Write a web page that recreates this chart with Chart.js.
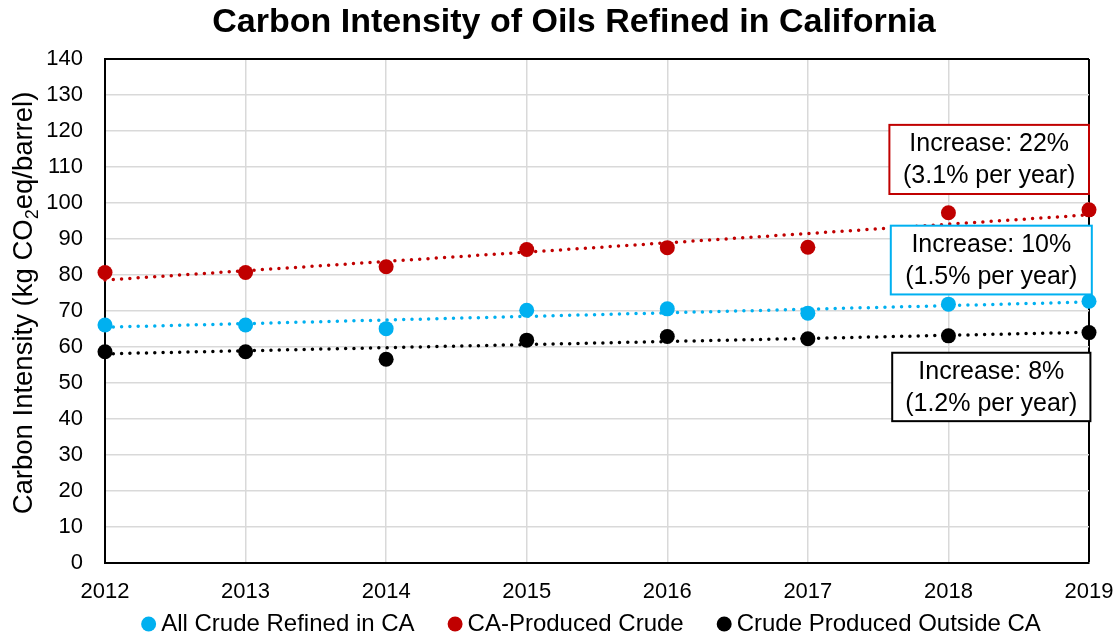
<!DOCTYPE html>
<html>
<head>
<meta charset="utf-8">
<script src="https://cdn.jsdelivr.net/npm/chart.js@4.4.1/dist/chart.umd.min.js"></script>
<style>
  html, body { margin: 0; padding: 0; background: #fff; }
  #wrap { width: 1119px; height: 640px; }
</style>
</head>
<body>
<div id="wrap"><canvas id="chart"></canvas></div>
<script>
'use strict';

// values
const years = [2012, 2013, 2014, 2015, 2016, 2017, 2018, 2019];
const allCrude = [66.1, 66.1, 65.1, 70.2, 70.6, 69.4, 71.9, 72.7];
const caProduced = [80.7, 80.7, 82.3, 87.1, 87.6, 87.7, 97.3, 98.1];
const outsideCA = [58.7, 58.7, 56.6, 61.9, 62.9, 62.3, 63.1, 64.0];

// dotted trend lines, start and end values (2012, 2019)
const trendYears = [2012, 2019];
const allCrudeTrend = [65.5, 72.5];
const caProducedTrend = [78.6, 96.7];
const outsideCATrend = [58.1, 64.1];

const chartTitle = 'Carbon Intensity of Oils Refined in California';
const seriesLabels = ['All Crude Refined in CA', 'CA-Produced Crude', 'Crude Produced Outside CA'];
const noteLines = [
    ['Increase: 22%', '(3.1% per year)'],
    ['Increase: 10%', '(1.5% per year)'],
    ['Increase: 8%', '(1.2% per year)']
];

const BLUE = '#00B0F0';
const RED = '#C00000';
const BLACK = '#000000';
const FONT = "'Liberation Sans', Arial, sans-serif";

// note boxes, placed in axis units
const noteBoxes = [
    {color: RED, x0: 2017.58, x1: 2019.0, top: 121.7, bottom: 102.5},
    {color: BLUE, x0: 2017.59, x1: 2019.02, top: 93.7, bottom: 74.6},
    {color: BLACK, x0: 2017.6, x1: 2019.01, top: 58.4, bottom: 39.4}
];

function points(xs, ys) {
    return xs.map(function (x, i) { return {x: x, y: ys[i]}; });
}

function scatterSet(label, values, color) {
    return {
        label: label,
        data: points(years, values),
        backgroundColor: color,
        borderColor: color,
        borderWidth: 0,
        pointRadius: 7.5,
        pointHoverRadius: 7.5,
        clip: false
    };
}

function trendSet(values, color) {
    return {
        type: 'line',
        label: '',
        data: points(trendYears, values),
        borderColor: color,
        borderWidth: 3.5,
        borderDash: [0, 8.3],
        borderCapStyle: 'round',
        pointRadius: 0,
        showLine: true,
        fill: false,
        clip: false
    };
}

const extras = {
    id: 'extras',
    afterDatasetsDraw: function (chart) {
        const ctx = chart.ctx;
        const xs = chart.scales.x;
        const ys = chart.scales.y;
        ctx.save();
        noteBoxes.forEach(function (b, i) {
            const l = xs.getPixelForValue(b.x0);
            const r = xs.getPixelForValue(b.x1);
            const t = ys.getPixelForValue(b.top);
            const bt = ys.getPixelForValue(b.bottom);
            ctx.fillStyle = '#fff';
            ctx.fillRect(l, t, r - l, bt - t);
            ctx.strokeStyle = b.color;
            ctx.lineWidth = 2;
            ctx.strokeRect(l, t, r - l, bt - t);
            ctx.fillStyle = BLACK;
            ctx.font = '25px ' + FONT;
            ctx.textAlign = 'center';
            ctx.textBaseline = 'middle';
            const cx = (l + r) / 2;
            const cy = (t + bt) / 2;
            ctx.fillText(noteLines[i][0], cx, cy - 15);
            ctx.fillText(noteLines[i][1], cx, cy + 17);
        });
        ctx.restore();
    },
    afterDraw: function (chart) {
        const ctx = chart.ctx;

        // title
        ctx.save();
        ctx.font = 'bold 34px ' + FONT;
        ctx.fillStyle = BLACK;
        ctx.textAlign = 'center';
        ctx.textBaseline = 'middle';
        ctx.fillText(chartTitle, 574, 23);
        ctx.restore();

        // y axis title with subscript 2
        ctx.save();
        const main = '27.5px ' + FONT;
        const sub = '18px ' + FONT;
        const parts = [['Carbon Intensity (kg CO', main, 0], ['2', sub, 6], ['eq/barrel)', main, 0]];
        let total = 0;
        parts.forEach(function (p) { ctx.font = p[1]; p.push(ctx.measureText(p[0]).width); total += p[3]; });
        ctx.translate(32, 303);
        ctx.rotate(-Math.PI / 2);
        ctx.fillStyle = BLACK;
        ctx.textAlign = 'left';
        ctx.textBaseline = 'alphabetic';
        let x = -total / 2;
        parts.forEach(function (p) {
            ctx.font = p[1];
            ctx.fillText(p[0], x, p[2]);
            x += p[3];
        });
        ctx.restore();

        // legend
        ctx.save();
        ctx.font = '24px ' + FONT;
        ctx.textBaseline = 'middle';
        ctx.textAlign = 'left';
        const rad = 7.5, gapIn = 5, gapOut = 33, ly = 624;
        const items = chart.data.datasets.filter(function (d) { return d.label; });
        const widths = items.map(function (d) { return ctx.measureText(d.label).width; });
        let width = 0;
        widths.forEach(function (w) { width += 2 * rad + gapIn + w; });
        width += gapOut * (items.length - 1);
        let lx = 591 - width / 2;
        items.forEach(function (d, i) {
            ctx.fillStyle = d.backgroundColor;
            ctx.beginPath();
            ctx.arc(lx + rad, ly, rad, 0, Math.PI * 2);
            ctx.fill();
            ctx.fillStyle = BLACK;
            ctx.fillText(d.label, lx + 2 * rad + gapIn, ly);
            lx += 2 * rad + gapIn + widths[i] + gapOut;
        });
        ctx.restore();
    }
};

Chart.defaults.font.family = FONT;
Chart.defaults.color = BLACK;

new Chart(document.getElementById('chart'), {
    type: 'scatter',
    data: {
        datasets: [
            scatterSet(seriesLabels[0], allCrude, BLUE),
            scatterSet(seriesLabels[1], caProduced, RED),
            scatterSet(seriesLabels[2], outsideCA, BLACK),
            trendSet(allCrudeTrend, BLUE),
            trendSet(caProducedTrend, RED),
            trendSet(outsideCATrend, BLACK)
        ]
    },
    options: {
        responsive: true,
        maintainAspectRatio: false,
        animation: false,
        layout: {padding: {left: 10, right: 30, top: 59, bottom: 40}},
        plugins: {
            legend: {display: false},
            tooltip: {enabled: false},
            title: {display: false}
        },
        scales: {
            x: {
                type: 'linear',
                min: 2012,
                max: 2019,
                afterFit: function (scale) {
                    scale.height = 37;
                    scale.paddingLeft = 0;
                    scale.paddingRight = 0;
                },
                ticks: {
                    stepSize: 1,
                    padding: 16,
                    font: {size: 22},
                    color: BLACK,
                    callback: function (v) { return String(v); }
                },
                grid: {
                    drawTicks: false,
                    color: function (c) { return c.tick && c.tick.value === 2019 ? BLACK : '#D9D9D9'; },
                    lineWidth: function (c) { return c.tick && c.tick.value === 2019 ? 2 : 1.5; }
                },
                border: {display: true, color: BLACK, width: 2}
            },
            y: {
                min: 0,
                max: 140,
                afterFit: function (scale) { scale.width = 95; },
                ticks: {
                    stepSize: 10,
                    padding: 22,
                    font: {size: 22},
                    color: BLACK
                },
                grid: {
                    drawTicks: false,
                    color: function (c) { return c.tick && (c.tick.value === 140 || c.tick.value === 0) ? BLACK : '#D9D9D9'; },
                    lineWidth: function (c) { return c.tick && (c.tick.value === 140 || c.tick.value === 0) ? 2 : 1.5; }
                },
                border: {display: true, color: BLACK, width: 2}
            }
        }
    },
    plugins: [extras]
});
</script>
</body>
</html>
